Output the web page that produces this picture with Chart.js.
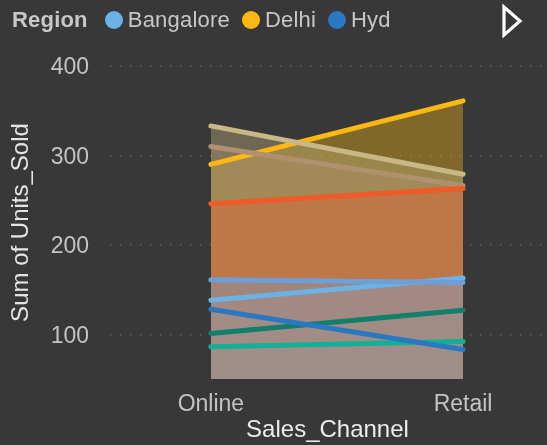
<!DOCTYPE html>
<html>
<head>
<meta charset="utf-8">
<script src="https://cdn.jsdelivr.net/npm/chart.js@4.4.1/dist/chart.umd.min.js"></script>
<style>
  html, body { margin: 0; padding: 0; background: #383838; }
  #wrap { position: relative; width: 547px; height: 445px; }
  #legend {
    position: absolute; top: 7px; left: 12px;
    font-family: "Liberation Sans", Arial, sans-serif; font-size: 22px; color: #c8c8c8;
    display: flex; align-items: center; white-space: nowrap; letter-spacing: 0.2px;
  }
  #legend b { margin-right: 17px; }
  #legend .item { display: flex; align-items: center; margin-right: 12px; }
  #legend .dot { width: 18px; height: 18px; border-radius: 50%; margin-right: 5px; }
  #arrow { position: absolute; left: 500px; top: 3px; }
</style>
</head>
<body>
<div id="wrap">
  <canvas id="chart" width="547" height="445"></canvas>
  <div id="legend"><b>Region</b></div>
  <svg id="arrow" width="26" height="36"><polygon points="4,4 4,32 20,18" fill="none" stroke="#ffffff" stroke-width="3.2" stroke-linejoin="miter"/></svg>
</div>
<script>
const channels = ['Online', 'Retail']
const regions = ['Bangalore', 'Delhi', 'Hyd', 'Jaipur', 'Kochi', 'Kolkata', 'Lucknow', 'Mumbai', 'Pune']
const colors = ['#6CB2E4', '#FDB813', '#2A78C2', '#C9B886', '#6E9FD9', '#F05A28', '#B0916F', '#127F6D', '#12B096']
const online = [138, 290, 128, 333, 161, 246, 310, 101, 86]
const retail = [163, 361, 83, 279, 158, 263, 266, 127, 92]
// which area sits on top (0 = topmost)
const layer = [5, 4, 6, 3, 0, 1, 2, 7, 8]
const yTicks = [100, 200, 300, 400]
const legendShown = 3

const legend = document.getElementById('legend')
for (let i = 0; i < legendShown; i++) {
    const el = document.createElement('span')
    el.className = 'item'
    el.innerHTML = '<span class="dot" style="background:' + colors[i] + '"></span>' + regions[i]
    legend.appendChild(el)
}

function hexA(hex, a)
{
    const n = parseInt(hex.slice(1), 16)
    return 'rgba(' + (n >> 16) + ',' + ((n >> 8) & 255) + ',' + (n & 255) + ',' + a + ')'
}

const datasets = regions.map((r, i) => ({
    label: r,
    data: [{x: 0, y: online[i]}, {x: 1, y: retail[i]}],
    order: layer[i],
    borderColor: colors[i],
    backgroundColor: hexA(colors[i], 0.37),
    borderWidth: 5,
    borderCapStyle: 'round',
    pointRadius: 0,
    fill: 'start',
    tension: 0
}))

const font = '"Liberation Sans", Arial, sans-serif'

new Chart(document.getElementById('chart'), {
    type: 'line',
    data: { datasets: datasets },
    options: {
        responsive: false,
        animation: false,
        layout: { padding: { top: 66, right: 2, left: 0, bottom: 0 } },
        plugins: {
            legend: { display: false },
            tooltip: { enabled: false },
            filler: { drawTime: 'beforeDatasetsDraw' }
        },
        scales: {
            x: {
                type: 'linear',
                min: -0.4,
                max: 1.325,
                grid: { display: false },
                border: { display: false },
                afterBuildTicks: s => { s.ticks = channels.map((c, i) => ({ value: i })) },
                afterFit: s => { s.height = 66 },
                ticks: {
                    padding: 4,
                    color: '#c4c4c4',
                    font: { family: font, size: 23 },
                    callback: v => channels[v]
                },
                title: {
                    display: true,
                    text: 'Sales_Channel',
                    color: '#ececec',
                    font: { family: font, size: 24 },
                    padding: { top: 0, bottom: 0 }
                }
            },
            y: {
                min: 50,
                max: 400,
                afterBuildTicks: s => { s.ticks = yTicks.map(v => ({ value: v })) },
                afterFit: s => { s.width = 110 },
                grid: {
                    color: '#5e5e5e',
                    lineWidth: 1.5,
                    drawTicks: false
                },
                border: { display: false, dash: [1.5, 8.5] },
                ticks: {
                    padding: 21,
                    labelOffset: 2,
                    color: '#c4c4c4',
                    font: { family: font, size: 23 }
                },
                title: {
                    display: true,
                    text: 'Sum of Units_Sold',
                    color: '#e4e4e4',
                    font: { family: font, size: 24 },
                    padding: { top: 7, bottom: 0 }
                }
            }
        }
    }
})
</script>
</body>
</html>
